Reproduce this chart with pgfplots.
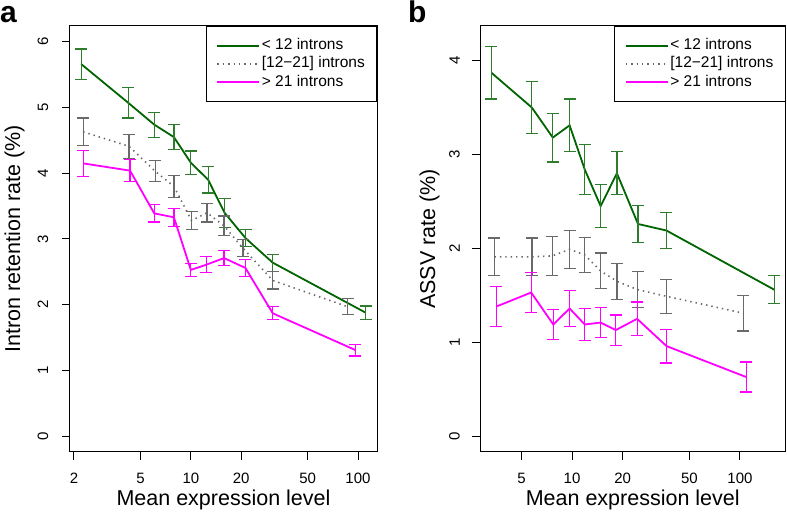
\documentclass[border=0pt]{standalone}
\usepackage{fontspec}
\setmainfont{Liberation Sans}
\usepackage{pgfplots}
\usepackage{pgfplotstable}
\pgfplotsset{compat=1.18}

\definecolor{dkgreen}{RGB}{0,100,0}
\definecolor{errgreen}{RGB}{45,125,45}
\definecolor{mgray}{RGB}{105,105,105}
\definecolor{mag}{RGB}{255,0,255}

% panel a: intron retention rate
\pgfplotstableread{
x y e
2.21 5.66 0.23
4.23 5.07 0.23
6.04 4.74 0.19
7.92 4.55 0.19
10.0 4.16 0.18
12.7 3.90 0.20
15.9 3.40 0.22
21.3 3.01 0.13
30.9 2.64 0.13
111 1.88 0.10
}\greenA
\pgfplotstableread{
x y e
2.27 4.63 0.21
4.27 4.41 0.18
6.12 4.03 0.16
7.92 3.80 0.17
10.1 3.28 0.14
12.5 3.40 0.14
15.8 3.20 0.15
20.5 2.86 0.13
30.9 2.37 0.13
86.7 1.97 0.12
}\grayA
\pgfplotstableread{
x y e
2.27 4.15 0.20
4.33 4.04 0.17
6.04 3.39 0.13
7.92 3.33 0.14
10.0 2.53 0.10
12.4 2.61 0.12
15.8 2.71 0.11
21.2 2.56 0.13
30.9 1.87 0.10
96.6 1.31 0.09
}\magA

% panel b: ASSV rate
\pgfplotstableread{
x y e
3.31 3.87 0.28
5.76 3.50 0.28
7.68 3.18 0.26
9.67 3.31 0.28
11.9 2.84 0.27
14.8 2.45 0.23
18.5 2.80 0.23
24.7 2.26 0.20
36.5 2.19 0.19
160 1.56 0.15
}\greenB
\pgfplotstableread{
x y e
3.45 1.91 0.20
5.78 1.91 0.20
7.62 1.92 0.21
9.67 1.99 0.20
11.9 1.93 0.19
14.8 1.76 0.19
18.5 1.65 0.19
24.6 1.56 0.19
36.5 1.49 0.18
104.6 1.31 0.19
}\grayB
\pgfplotstableread{
x y e
3.53 1.38 0.21
5.71 1.53 0.21
7.73 1.19 0.16
9.67 1.36 0.19
11.9 1.19 0.17
14.8 1.21 0.16
18.2 1.13 0.16
24.4 1.25 0.18
36.5 0.96 0.18
109 0.63 0.16
}\magB

\newcommand{\series}[3]{% table, line options, error colour
  \addplot[#2, forget plot,
    error bars/y dir=both, error bars/y explicit,
    error bars/error bar style={solid, line width=1.2bp, #3},
    error bars/error mark options={rotate=90, mark size=6bp, line width=1.2bp, #3, solid}]
    table[x=x, y=y, y error=e] {#1};}
\newcommand{\legendrows}{%
  \addlegendimage{dkgreen, line width=1.8bp}
  \addlegendentry{< 12 introns}
  \addlegendimage{mgray, line width=1.6bp, dash pattern=on 1.4bp off 4bp}
  \addlegendentry{[12−21] introns}
  \addlegendimage{mag, line width=1.8bp}
  \addlegendentry{> 21 introns}}
\newcommand{\tickfont}{\fontsize{15bp}{18bp}\selectfont}
\newcommand{\labfont}{\fontsize{21.5bp}{25bp}\selectfont}

\begin{document}
\begin{tikzpicture}
\path[use as bounding box] (0bp,0bp) rectangle (787bp,522bp);

\begin{axis}[at={(70bp,70bp)}, anchor=south west,
  scale only axis, width=307bp, height=426bp,
  xmode=log, log ticks with fixed point,
  xtick={2,5,10,20,50,100}, xminorticks=false,
  tick align=outside, major tick length=8bp,
  xtick pos=left, ytick pos=left,
  axis line style={line width=1bp, black},
  tick style={line width=1bp, black},
  /pgf/number format/assume math mode=true,
  ticklabel style={font=\tickfont},
  xticklabel style={anchor=north, inner sep=0pt, yshift=-12.6bp},
  yticklabel={\rotatebox{90}{\pgfmathprintnumber{\tick}}},
  yticklabel style={anchor=east, inner sep=0pt, xshift=-13.6bp},
  every axis x label/.style={at={(axis description cs:0.5,0)}, anchor=base, yshift=-53bp, font=\labfont},
  every axis y label/.style={at={(axis description cs:0,0.5)}, xshift=-50bp, rotate=90, anchor=base, font=\labfont},
  legend cell align=left,
  legend style={at={(1,1)}, anchor=north east, draw=black, line width=1bp,
    font=\fontsize{15.5bp}{18bp}\selectfont,
    inner xsep=10bp, inner ysep=10bp, row sep=0bp,
    nodes={inner sep=1.65bp, text height=11.5bp, text depth=3.5bp}},
  legend image code/.code={\draw[#1] (0bp,0bp) -- (29bp,0bp); \path (0bp,0bp) -- (42bp,0bp);},
  xmin=1.893, xmax=129.9, ymin=-0.24, ymax=6.24, ytick={0,1,2,3,4,5,6},
  xlabel={Mean expression level}, ylabel={Intron retention rate (\%)}]
\series{\greenA}{dkgreen, line width=1.8bp}{errgreen}
\series{\grayA}{mgray, line width=1.6bp, dash pattern=on 1.4bp off 4bp}{mgray}
\series{\magA}{mag, line width=1.8bp}{mag}
\legendrows
\end{axis}

\begin{axis}[at={(480bp,70bp)}, anchor=south west,
  scale only axis, width=305.5bp, height=426bp,
  xmode=log, log ticks with fixed point,
  xtick={5,10,20,50,100}, xminorticks=false,
  tick align=outside, major tick length=8bp,
  xtick pos=left, ytick pos=left,
  axis line style={line width=1bp, black},
  tick style={line width=1bp, black},
  /pgf/number format/assume math mode=true,
  ticklabel style={font=\tickfont},
  xticklabel style={anchor=north, inner sep=0pt, yshift=-12.6bp},
  yticklabel={\rotatebox{90}{\pgfmathprintnumber{\tick}}},
  yticklabel style={anchor=east, inner sep=0pt, xshift=-12bp},
  every axis x label/.style={at={(axis description cs:0.5,0)}, anchor=base, yshift=-53bp, font=\labfont},
  every axis y label/.style={at={(axis description cs:0,0.5)}, xshift=-45bp, rotate=90, anchor=base, font=\labfont},
  legend cell align=left,
  legend style={at={(1,1)}, anchor=north east, draw=black, line width=1bp,
    font=\fontsize{15.5bp}{18bp}\selectfont,
    inner xsep=10bp, inner ysep=10bp, row sep=0bp,
    nodes={inner sep=1.65bp, text height=11.5bp, text depth=3.5bp}},
  legend image code/.code={\draw[#1] (0bp,0bp) -- (29bp,0bp); \path (0bp,0bp) -- (42bp,0bp);},
  xmin=2.83, xmax=186.7, ymin=-0.168, ymax=4.368, ytick={0,1,2,3,4},
  xlabel={Mean expression level}, ylabel={ASSV rate (\%)}]
\series{\greenB}{dkgreen, line width=1.8bp}{errgreen}
\series{\grayB}{mgray, line width=1.6bp, dash pattern=on 1.4bp off 4bp}{mgray}
\series{\magB}{mag, line width=1.8bp}{mag}
\legendrows
\end{axis}

\node[anchor=base west, inner sep=0pt, font=\bfseries\fontsize{30bp}{30bp}\selectfont] at (0bp,499bp) {a};
\node[anchor=base west, inner sep=0pt, font=\bfseries\fontsize{30bp}{30bp}\selectfont] at (408bp,499bp) {b};
\end{tikzpicture}
\end{document}
